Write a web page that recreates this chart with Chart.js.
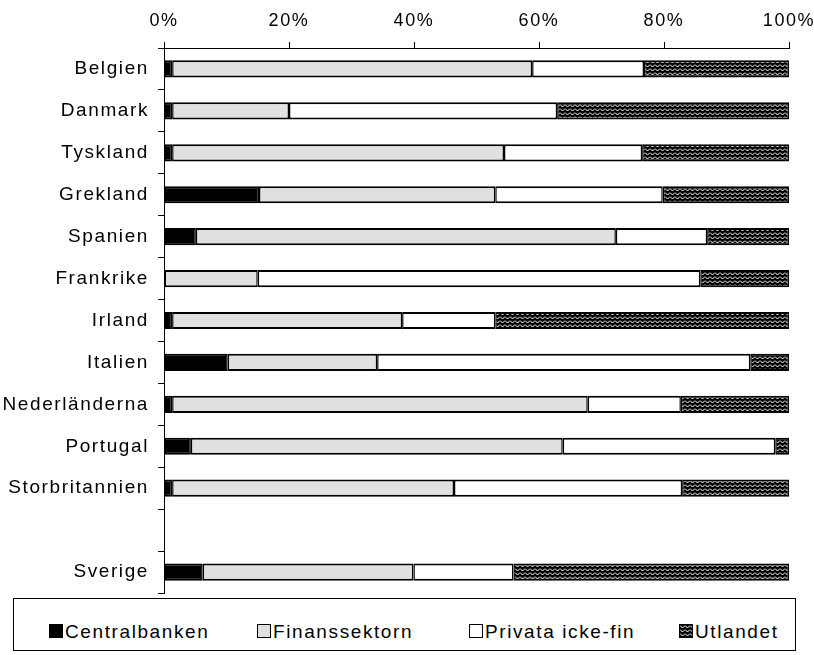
<!DOCTYPE html>
<html>
<head>
<meta charset="utf-8">
<script src="https://cdn.jsdelivr.net/npm/chart.js@4/dist/chart.umd.min.js"></script>
<style>
  body { margin: 0; background: #fff; font-family: 'Liberation Sans', Arial, sans-serif; }
  #wrap { position: relative; width: 814px; height: 655px; }
  #legend { position: absolute; left: 13px; top: 598px; width: 783px; height: 53px; border: 1px solid #000; box-sizing: border-box; }
  .item { position: absolute; top: 24px; font-size: 19px; letter-spacing: 1.6px; line-height: 18px; color: #000; white-space: nowrap; }
  .sw { display: inline-block; width: 12px; height: 12px; border: 1px solid #000; margin-right: 2px; vertical-align: 0px; }
</style>
</head>
<body>
<div id="wrap">
  <canvas id="myChart" width="814" height="598"></canvas>
  <div id="legend"></div>
</div>
<script>
// dane (udzial w %)
const countries = ['Belgien', 'Danmark', 'Tyskland', 'Grekland', 'Spanien', 'Frankrike', 'Irland', 'Italien', 'Nederländerna', 'Portugal', 'Storbritannien', '', 'Sverige'];
const centralbanken = [1.3, 1.3, 1.3, 15.2, 5.1, 0, 1.3, 10.2, 1.3, 4.3, 1.3, null, 6.2];
const finanssektorn = [57.6, 18.7, 53.1, 37.8, 67.2, 15.0, 36.8, 23.9, 66.5, 59.5, 45.1, null, 33.7];
const privata = [17.9, 42.9, 22.1, 26.8, 14.6, 70.8, 14.9, 59.7, 14.9, 34.0, 36.5, null, 16.0];
const utlandet = [23.2, 37.1, 23.5, 20.2, 13.1, 14.2, 47.0, 6.2, 17.3, 2.2, 17.1, null, 44.1];
const seriesNames = ['Centralbanken', 'Finanssektorn', 'Privata icke-fin', 'Utlandet'];
const xTicks = [0, 20, 40, 60, 80, 100];

// wzorek zygzak dla "Utlandet"
function makePattern() {
  const c = document.createElement('canvas');
  c.width = 5;
  c.height = 4;
  const g = c.getContext('2d');
  g.fillStyle = '#000';
  g.fillRect(0, 0, 5, 4);
  g.strokeStyle = '#fff';
  g.lineWidth = 1;
  g.beginPath();
  g.moveTo(0, 0.5);
  g.lineTo(2.5, 3);
  g.lineTo(5, 0.5);
  g.stroke();
  return c;
}

const patCanvas = makePattern();
const ctx = document.getElementById('myChart');
const pattern = ctx.getContext('2d').createPattern(patCanvas, 'repeat');
const fills = ['#000000', '#e0e0e0', '#ffffff', pattern];

function ds(label, data, fill) {
  return {
    label: label,
    data: data,
    backgroundColor: fill,
    borderColor: '#000',
    borderWidth: {top: 2, bottom: 2, left: 1.5, right: 1.5},
    borderSkipped: false,
    barPercentage: 0.41,
    categoryPercentage: 1
  };
}

// odstepy miedzy literami jak w oryginale
const spacing = {
  id: 'spacing',
  beforeDraw(chart) { chart.ctx.letterSpacing = '1.6px'; }
};

const myChart = new Chart(ctx, {
  type: 'bar',
  data: {
    labels: countries,
    datasets: [
      ds(seriesNames[0], centralbanken, fills[0]),
      ds(seriesNames[1], finanssektorn, fills[1]),
      ds(seriesNames[2], privata, fills[2]),
      ds(seriesNames[3], utlandet, fills[3])
    ]
  },
  options: {
    indexAxis: 'y',
    responsive: false,
    animation: false,
    layout: { padding: { left: 0, right: 25, top: 0, bottom: 5 } },
    plugins: { legend: { display: false }, tooltip: { enabled: false } },
    scales: {
      x: {
        position: 'top',
        stacked: true,
        min: 0,
        max: 100,
        afterBuildTicks: (s) => { s.ticks = xTicks.map(v => ({value: v})); },
        afterFit: (s) => { s.height = 48; s.paddingLeft = 0; s.paddingRight = 0; },
        ticks: {
          callback: (v) => v + '%',
          color: '#000',
          padding: 10,
          maxRotation: 0,
          font: { family: "'Liberation Sans', Arial", size: 18 }
        },
        grid: { drawOnChartArea: false, tickLength: 6, color: '#000' },
        border: { color: '#000', width: 1 }
      },
      y: {
        stacked: true,
        afterFit: (s) => { s.width = 164; s.paddingTop = 0; s.paddingBottom = 0; },
        ticks: {
          color: '#000',
          padding: 9,
          autoSkip: false,
          font: { family: "'Liberation Sans', Arial", size: 19 }
        },
        grid: { drawOnChartArea: false, offset: true, tickLength: 6, color: '#000' },
        border: { color: '#000', width: 1 }
      }
    }
  },
  plugins: [spacing]
});

// legenda w ramce pod wykresem
const legendLeft = [35, 243, 455, 665];
const legend = document.getElementById('legend');
for (let i in seriesNames) {
  const it = document.createElement('div');
  it.className = 'item';
  it.style.left = legendLeft[i] + 'px';
  const sw = document.createElement('span');
  sw.className = 'sw';
  if (i == 3) {
    sw.style.backgroundImage = 'url(' + patCanvas.toDataURL() + ')';
  } else {
    sw.style.background = fills[i];
  }
  it.appendChild(sw);
  it.appendChild(document.createTextNode(seriesNames[i]));
  legend.appendChild(it);
}
</script>
</body>
</html>
